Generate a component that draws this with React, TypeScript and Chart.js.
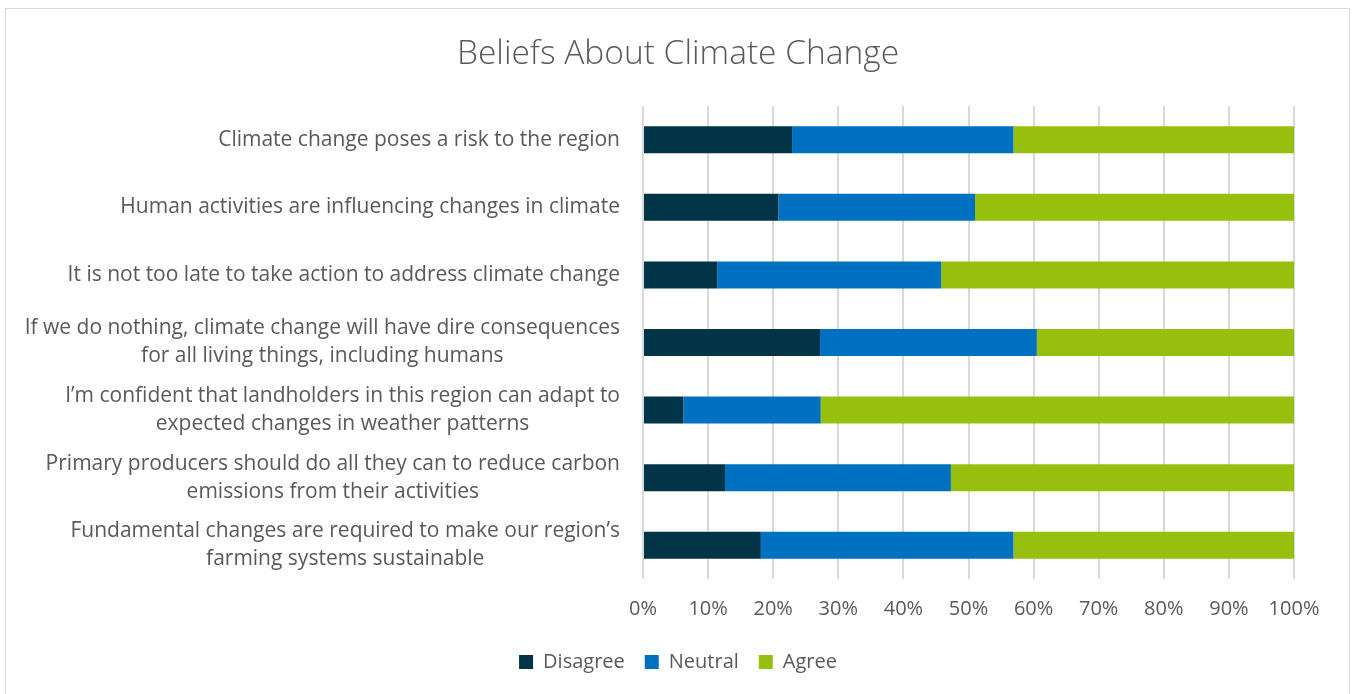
import React, { useEffect, useRef } from "react";
import { Chart, registerables } from "chart.js";

Chart.register(...registerables);

const categories: string[][] = [
  ["Climate change poses a risk to the region"],
  ["Human activities are influencing changes in climate"],
  ["It is not too late to take action to address climate change"],
  ["If we do nothing, climate change will have dire consequences", "for all living things, including humans"],
  ["I\u2019m confident that landholders in this region can adapt to", "expected changes in weather patterns"],
  ["Primary producers should do all they can to reduce carbon", "emissions from their activities"],
  ["Fundamental changes are required to make our region\u2019s", "farming systems sustainable"],
];
const disagree = [22.9, 20.8, 11.4, 27.2, 6.2, 12.6, 18.1];
const neutral = [34.0, 30.2, 34.4, 33.3, 21.1, 34.7, 38.8];
const agree = [43.1, 49.0, 54.2, 39.5, 72.7, 52.7, 43.1];
const seriesNames = ["Disagree", "Neutral", "Agree"];
const xTicks = [0, 10, 20, 30, 40, 50, 60, 70, 80, 90, 100];

const TEXT = "#595959";
const FONT = "'Open Sans'";

const yLabelPlugin = {
  id: "yLabelPlugin",
  afterDraw(chart: any) {
    const scale = chart.scales.y;
    const ctx = chart.ctx;
    ctx.save();
    ctx.font = `21px ${FONT}`;
    ctx.fillStyle = TEXT;
    ctx.textAlign = "center";
    ctx.textBaseline = "middle";
    const right = chart.chartArea.left - 23;
    const lh = 28;
    categories.forEach((lines, i) => {
      const y = scale.getPixelForValue(i);
      const widest = Math.max(...lines.map((l) => ctx.measureText(l).width));
      const cx = right - widest / 2;
      lines.forEach((l, j) => {
        ctx.fillText(l, cx, y + (j - (lines.length - 1) / 2) * lh);
      });
    });
    ctx.restore();
  },
};

export default function App() {
  const ref = useRef<HTMLCanvasElement>(null);
  useEffect(() => {
    if (!ref.current) return;
    const chart = new Chart(ref.current, {
      type: "bar",
      data: {
        labels: categories.map((c) => c.join(" ")),
        datasets: [
          { label: seriesNames[0], data: disagree, backgroundColor: "#013447", categoryPercentage: 0.8, barPercentage: 0.5 },
          { label: seriesNames[1], data: neutral, backgroundColor: "#0070C0", categoryPercentage: 0.8, barPercentage: 0.5 },
          { label: seriesNames[2], data: agree, backgroundColor: "#97C00E", categoryPercentage: 0.8, barPercentage: 0.5 },
        ],
      },
      options: {
        indexAxis: "y",
        animation: false,
        responsive: false,
        devicePixelRatio: 1,
        layout: { padding: { left: 0, right: 0, top: 0, bottom: 12 } },
        scales: {
          x: {
            stacked: true,
            min: 0,
            max: 100,
            afterBuildTicks: (s: any) => {
              s.ticks = xTicks.map((v) => ({ value: v }));
            },
            afterFit: (s: any) => {
              s.height = 53;
            },
            grid: { color: "#d9d9d9", lineWidth: 2, drawTicks: false },
            border: { display: false },
            ticks: {
              color: TEXT,
              font: { family: FONT, size: 20, lineHeight: 0.6 },
              padding: 24,
              callback: (v: any) => `${v}%`,
            },
          },
          y: {
            stacked: true,
            grid: { display: false },
            border: { display: false },
            ticks: { display: false },
            afterFit: (s: any) => {
              s.width = 643;
            },
          },
          yRight: {
            type: "linear",
            position: "right",
            display: true,
            grid: { display: false },
            border: { display: false },
            ticks: { display: false },
            afterFit: (s: any) => {
              s.width = 62;
            },
          },
        },
        plugins: {
          title: {
            display: true,
            text: "Beliefs About Climate Change",
            color: TEXT,
            font: { family: FONT, size: 33.5, weight: 300 },
            padding: { top: 34.4, bottom: 31.4 },
          },
          legend: {
            position: "bottom",
            labels: {
              color: TEXT,
              font: { family: FONT, size: 20 },
              boxWidth: 14,
              boxHeight: 14,
              padding: 20,
            },
          },
          tooltip: { enabled: false },
        },
      },
      plugins: [yLabelPlugin],
    } as any);
    return () => chart.destroy();
  }, []);
  return (
    <div>
      <div
        style={{
          position: "absolute",
          left: 5,
          top: 8,
          width: 1345,
          height: 700,
          border: "1px solid #d9d9d9",
          borderBottom: "none",
          boxSizing: "border-box",
        }}
      />
      <canvas
        ref={ref}
        width={1356}
        height={694}
        style={{ position: "absolute", left: 0, top: 0, width: 1356, height: 694 }}
      />
    </div>
  );
}
